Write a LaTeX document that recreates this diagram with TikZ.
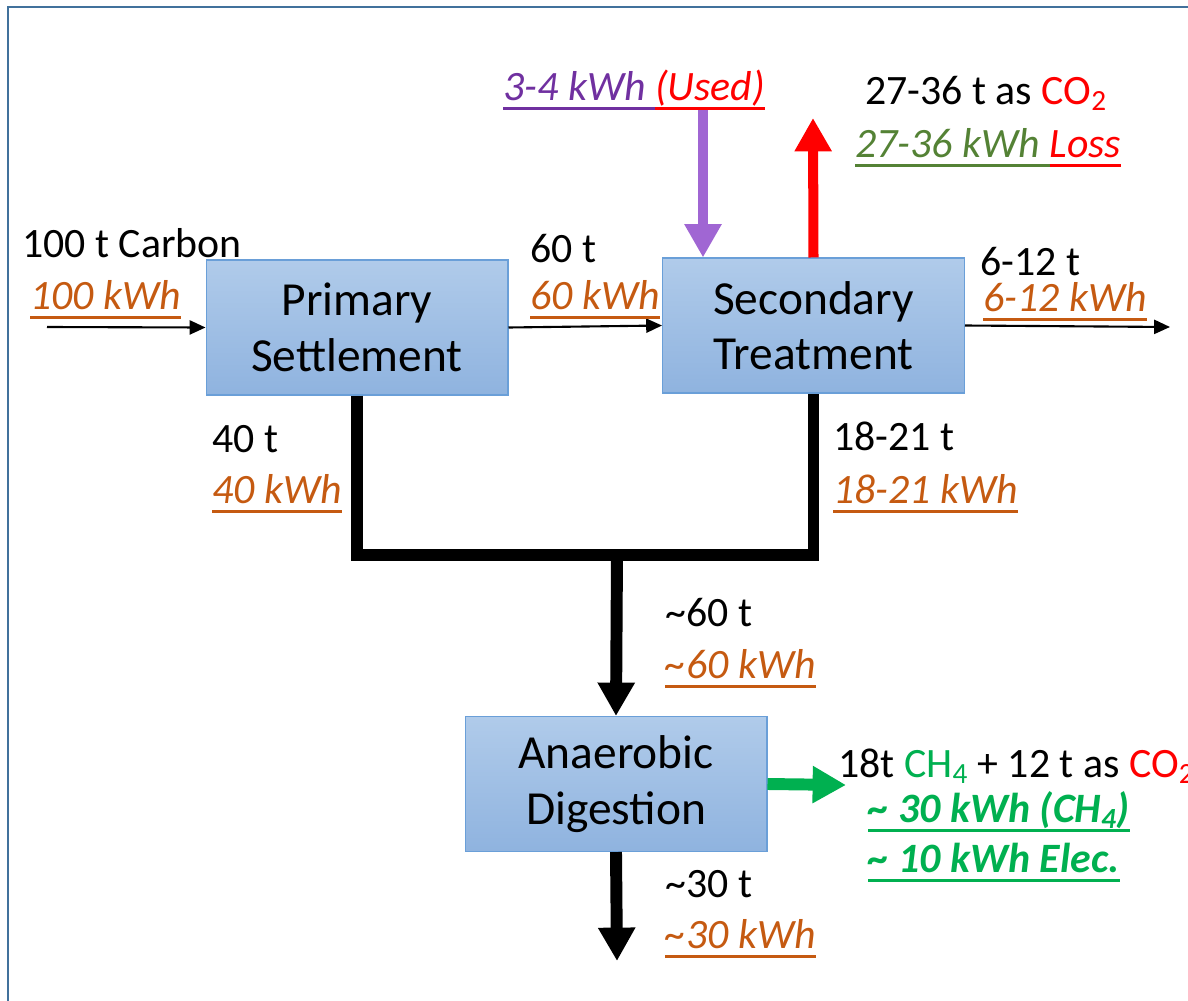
\documentclass[tikz,border=0pt]{standalone}
\usepackage{fontspec}
\setmainfont{Carlito}
\usetikzlibrary{positioning, arrows.meta}
\definecolor{kwhorange}{HTML}{C55A11}
\definecolor{usedpurple}{HTML}{7030A0}
\definecolor{arrowpurple}{HTML}{A066D3}
\definecolor{lossgreen}{HTML}{548235}
\definecolor{gasgreen}{HTML}{00B050}
\definecolor{framblue}{HTML}{41719C}
\definecolor{boxtop}{HTML}{B0CBEA}
\definecolor{boxbot}{HTML}{8FB3DF}
\definecolor{boxedge}{HTML}{6A9FD8}
\newcommand{\undl}[1]{\setbox0=\hbox{#1}\rlap{\rule[-5.5pt]{\wd0}{1.3pt}}\box0}

\begin{document}
\begin{tikzpicture}[x=0.02cm, y=-0.02cm,
    box/.style={rectangle, draw=boxedge, line width=0.6pt, top color=boxtop, bottom color=boxbot,
        minimum width=6.04cm, minimum height=2.7cm, align=center, font=\fontsize{27}{31.5}\selectfont},
    lbl/.style={anchor=base west, inner sep=0pt, font=\fontsize{23.8}{28}\selectfont},
    kwh/.style={lbl, text=kwhorange, font=\fontsize{23.8}{28}\selectfont\itshape},
    flow/.style={-{Triangle[length=9pt, width=8pt]}, line width=1.2pt},
    bulk/.style={line width=6.8pt},
    bulkarrow/.style={bulk, -{Triangle[length=19pt, width=20pt]}}]
    \useasboundingbox (0,0) rectangle (1188,1001);
    \draw[framblue, line width=1.7pt] (8,1001) -- (8,7) -- (1188,7);

    \node[box] (P) at (357,327.5) {Primary\\Settlement};
    \node[box] (S) at (813.5,325.5) {Secondary\\Treatment};
    \node[box] (A) at (616,784) {Anaerobic\\Digestion};

    \coordinate (in) at (47,327);
    \coordinate (out) at (1170,327);
    \coordinate (usein) at (703,109);
    \coordinate (co2out) at (813,118);
    \coordinate (join) at (617,555);
    \coordinate (gasout) at (846,785);
    \coordinate (digout) at (617,961);

    \draw[flow] (in) -- (P.west);
    \draw[flow] (P.east) -- (S.west);
    \draw[flow] (S.east) -- (out);
    \draw[bulk, arrowpurple, line width=5.7pt, -{Triangle[length=19pt, width=20pt]}] (usein) -- (usein |- S.north);
    \draw[bulkarrow, red, line width=5.7pt] (S.north) -- (co2out);
    \draw[bulk] (P.south) |- (join) -| (S.south);
    \draw[bulkarrow] (join) -- (A.north);
    \draw[bulkarrow, gasgreen] (A.east) -- (gasout);
    \draw[bulkarrow] (A.south) -- (digout);

    \node[lbl] (carbon) at (22,257) {100 t Carbon};
    \node[kwh] (carbonkwh) at (30,309) {\undl{100 kWh}};
    \node[lbl] (sixty) at (530,262) {60 t};
    \node[kwh] (sixtykwh) at (530,309) {\undl{60 kWh}};
    \node[lbl, font=\fontsize{23.8}{28}\selectfont\itshape] (used) at (503,100)
        {{\color{usedpurple}\undl{3-4 kWh }}{\color{red}\undl{(Used)}}};
    \node[lbl] (co2) at (865,104) {27-36 t as {\color{red}CO\textsubscript{2}}};
    \node[lbl, font=\fontsize{23.8}{28}\selectfont\itshape] (loss) at (855,157)
        {{\color{lossgreen}\undl{27-36 kWh }}{\color{red}\undl{Loss}}};
    \node[lbl] (effl) at (980,275) {6-12 t};
    \node[kwh] (efflkwh) at (983,311) {\undl{6-12 kWh}};
    \node[lbl] (forty) at (212,452) {40 t};
    \node[kwh] (fortykwh) at (212,503) {\undl{40 kWh}};
    \node[lbl] (wasact) at (833,450) {18-21 t};
    \node[kwh] (wasactkwh) at (833,503) {\undl{18-21 kWh}};
    \node[lbl] (sludge) at (665,626) {\textasciitilde60 t};
    \node[kwh] (sludgekwh) at (665,678) {\undl{\textasciitilde60 kWh}};
    \node[lbl] (biogas) at (838,777)
        {18t {\color{gasgreen}CH\textsubscript{4}} + 12 t as {\color{red}CO\textsubscript{2}}};
    \node[lbl, text=gasgreen, font=\fontsize{23.8}{28}\selectfont\bfseries\itshape] (gaskwh) at (868,822)
        {\undl{\textasciitilde\ 30 kWh (CH\textsubscript{4})}};
    \node[lbl, text=gasgreen, font=\fontsize{23.8}{28}\selectfont\bfseries\itshape] (elec) at (868,872)
        {\undl{\textasciitilde\ 10 kWh Elec.}};
    \node[lbl] (cake) at (665,897) {\textasciitilde30 t};
    \node[kwh] (cakekwh) at (665,948) {\undl{\textasciitilde30 kWh}};
\end{tikzpicture}
\end{document}
